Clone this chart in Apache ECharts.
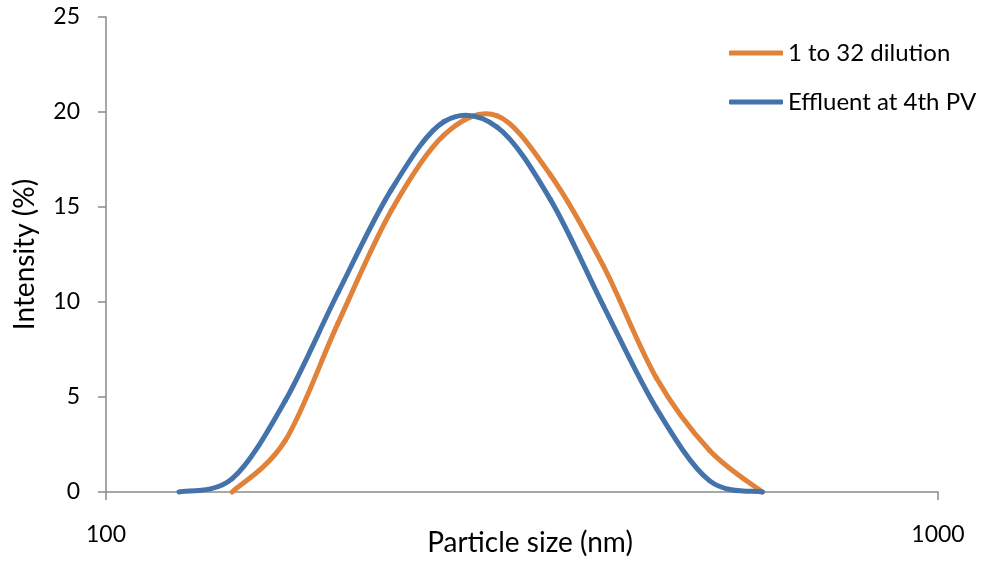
<!DOCTYPE html>
<html>
<head>
<meta charset="utf-8">
<script src="https://cdn.jsdelivr.net/npm/echarts@6/dist/echarts.min.js"></script>
<style>
  html, body { margin: 0; padding: 0; background: #fff; }
  #chart { width: 982px; height: 561px; }
</style>
</head>
<body>
<div id="chart"></div>
<script>
// Particle size bins (nm), log-spaced
const sizesDilution = [141.8, 164.2, 190.1, 220.2, 255.0, 295.3, 342.0, 396.1, 458.7, 531.2, 615.1];
const sizesEffluent = [122.4, 141.8, 164.2, 190.1, 220.2, 255.0, 295.3, 342.0, 396.1, 458.7, 531.2, 615.1];

// Intensity (%) per bin
const intensityDilution = [0.0, 2.7, 8.9, 14.8, 18.8, 19.8, 16.7, 11.9, 6.0, 2.2, 0.0];
const intensityEffluent = [0.0, 0.7, 4.8, 10.5, 15.9, 19.5, 19.2, 15.4, 9.8, 4.4, 0.6, 0.0];

const seriesNames = ['1 to 32 dilution', 'Effluent at 4th PV'];
const seriesColors = ['#E0823A', '#4472AA'];
const xTicks = [100, 1000];
const yTicks = [0, 5, 10, 15, 20, 25];

const FONT = 'Lato';
const AXIS_GRAY = '#8a8a8a';

function pairs(xs, ys) {
  return xs.map((x, i) => [x, ys[i]]);
}

// Smooth line through the data points: the points are projected with
// api.coord and joined by uniform Catmull-Rom cubic segments.
function smoothLineRenderer(color) {
  return function (params, api) {
    if (params.dataIndexInside !== 0) return null;
    const n = params.dataInsideLength;
    const pts = [];
    for (let i = 0; i < n; i++) {
      pts.push(api.coord([api.value(0, i), api.value(1, i)]));
    }
    const children = [];
    for (let i = 0; i < pts.length - 1; i++) {
      const p0 = pts[i - 1] || pts[i];
      const p1 = pts[i];
      const p2 = pts[i + 1];
      const p3 = pts[i + 2] || pts[i + 1];
      children.push({
        type: 'bezierCurve',
        shape: {
          x1: p1[0], y1: p1[1],
          cpx1: p1[0] + (p2[0] - p0[0]) / 6,
          cpy1: p1[1] + (p2[1] - p0[1]) / 6,
          cpx2: p2[0] - (p3[0] - p1[0]) / 6,
          cpy2: p2[1] - (p3[1] - p1[1]) / 6,
          x2: p2[0], y2: p2[1]
        },
        style: { stroke: color, lineWidth: 5, fill: null, lineCap: 'round', lineJoin: 'round' }
      });
    }
    return { type: 'group', children: children };
  };
}

const chart = echarts.init(document.getElementById('chart'), null, { renderer: 'canvas' });

chart.setOption({
  animation: false,
  backgroundColor: '#ffffff',
  textStyle: { fontFamily: FONT },
  grid: { left: 106, right: 44, top: 17, bottom: 69, containLabel: false, outerBoundsMode: 'none' },
  legend: {
    orient: 'vertical',
    left: 729,
    top: 40,
    padding: 0,
    itemWidth: 54,
    itemHeight: 5,
    itemGap: 23,
    textStyle: { fontFamily: FONT, fontSize: 24, color: '#000', lineHeight: 26 },
    data: seriesNames.map(name => ({ name: name, icon: 'roundRect' }))
  },
  xAxis: {
    type: 'log',
    logBase: 10,
    min: xTicks[0],
    max: xTicks[xTicks.length - 1],
    name: 'Particle size (nm)',
    nameLocation: 'middle',
    nameGap: 37,
    nameMoveOverlap: false,
    nameTextStyle: { fontFamily: FONT, fontSize: 28, color: '#000', padding: [0, 0, 0, 16] },
    axisLine: { lineStyle: { color: AXIS_GRAY, width: 1.5 } },
    axisTick: { show: true, length: 8, lineStyle: { color: AXIS_GRAY, width: 1.5 } },
    minorTick: { show: false },
    splitLine: { show: false },
    axisLabel: {
      margin: 31,
      fontFamily: FONT,
      fontSize: 23,
      color: '#000',
      formatter: v => String(Math.round(v))
    }
  },
  yAxis: {
    type: 'value',
    min: yTicks[0],
    max: yTicks[yTicks.length - 1],
    interval: 5,
    name: 'Intensity (%)',
    nameLocation: 'middle',
    nameGap: 67,
    nameMoveOverlap: false,
    nameTextStyle: { fontFamily: FONT, fontSize: 28, color: '#000' },
    axisLine: { show: true, lineStyle: { color: AXIS_GRAY, width: 1.5 } },
    axisTick: { show: true, length: 8, lineStyle: { color: AXIS_GRAY, width: 1.5 } },
    splitLine: { show: false },
    axisLabel: { margin: 26, fontFamily: FONT, fontSize: 23, color: '#000' }
  },
  series: [
    {
      name: seriesNames[0],
      type: 'custom',
      coordinateSystem: 'cartesian2d',
      data: pairs(sizesDilution, intensityDilution),
      encode: { x: 0, y: 1 },
      itemStyle: { color: seriesColors[0] },
      renderItem: smoothLineRenderer(seriesColors[0]),
      clip: false,
      z: 2
    },
    {
      name: seriesNames[1],
      type: 'custom',
      coordinateSystem: 'cartesian2d',
      data: pairs(sizesEffluent, intensityEffluent),
      encode: { x: 0, y: 1 },
      itemStyle: { color: seriesColors[1] },
      renderItem: smoothLineRenderer(seriesColors[1]),
      clip: false,
      z: 3
    }
  ]
});
</script>
</body>
</html>
